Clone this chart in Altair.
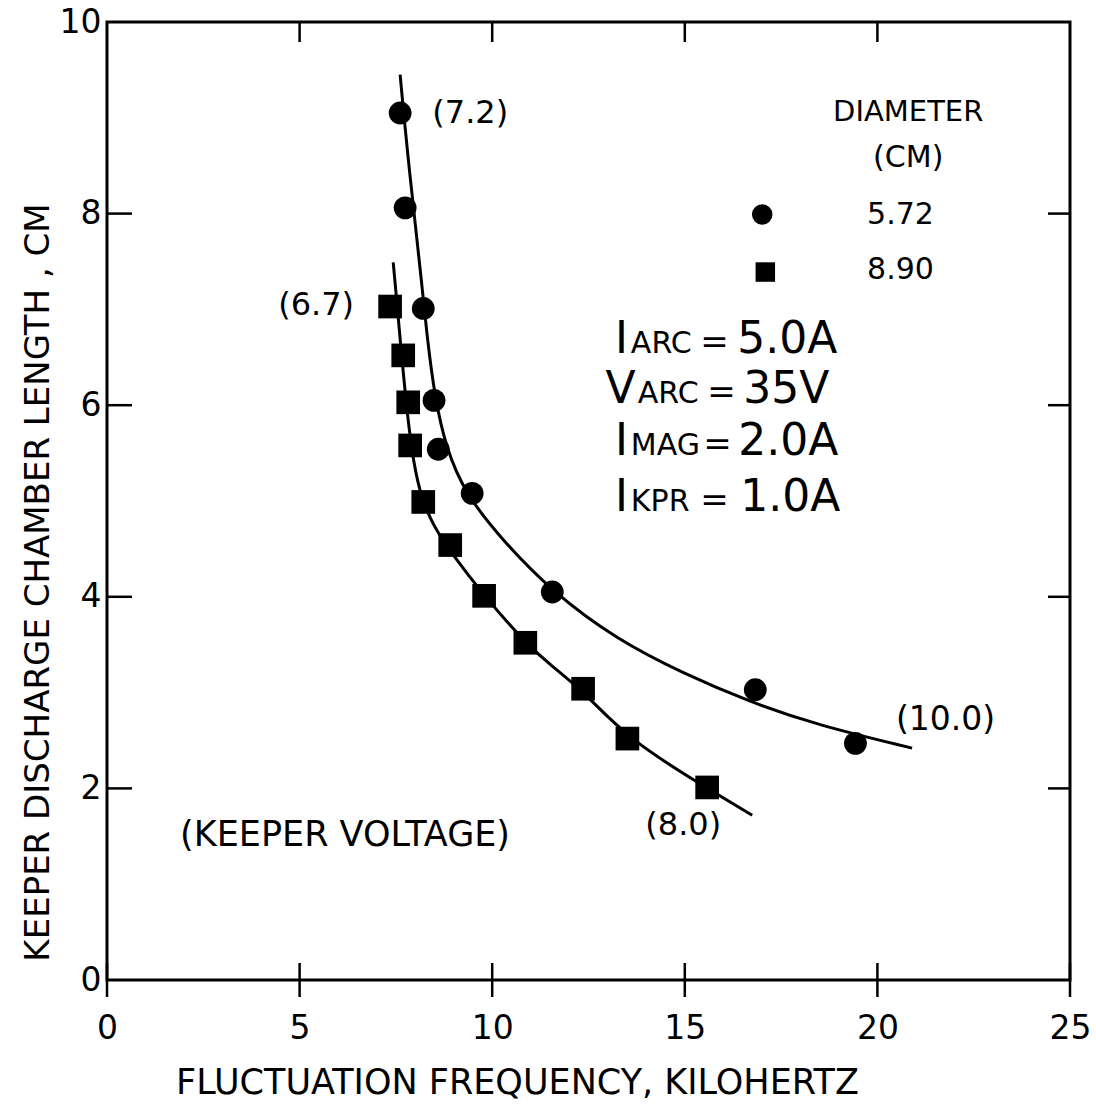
import altair as alt
import pandas as pd

# ---- data ----
circ_x = [7.61, 7.74, 8.21, 8.49, 8.60, 9.48, 11.56, 16.83, 19.43]
circ_y = [9.05, 8.06, 7.01, 6.05, 5.54, 5.08, 4.05, 3.03, 2.47]
sq_x = [7.35, 7.69, 7.82, 7.87, 8.21, 8.91, 9.79, 10.86, 12.36, 13.51, 15.58]
sq_y = [7.03, 6.52, 6.03, 5.58, 4.99, 4.54, 4.01, 3.52, 3.04, 2.52, 2.01]

# hand-drawn fit curves (traced)
circ_fit_x = [7.61, 7.70, 7.85, 8.00, 8.15, 8.30, 8.50, 8.80, 9.30, 10.2, 11.56, 13.25, 14.96, 16.7, 18.44, 20.9]
circ_fit_y = [9.45, 9.05, 8.45, 7.90, 7.35, 6.75, 6.10, 5.55, 5.08, 4.62, 4.05, 3.55, 3.20, 2.90, 2.66, 2.42]
sq_fit_x = [7.43, 7.52, 7.63, 7.76, 7.90, 8.10, 8.45, 8.95, 9.79, 10.86, 11.5, 12.36, 13.5, 15.58, 16.75]
sq_fit_y = [7.49, 7.10, 6.60, 6.05, 5.55, 5.10, 4.75, 4.45, 4.01, 3.52, 3.29, 3.02, 2.52, 2.00, 1.72]

x_ticks = [0, 5, 10, 15, 20, 25]
y_ticks = [0, 2, 4, 6, 8, 10]

# annotations (centered)
ann_text = ["(7.2)", "(6.7)", "(10.0)", "(8.0)", "(KEEPER VOLTAGE)", "DIAMETER", "(CM)", "5.72", "8.90"]
ann_x = [9.43, 5.43, 21.77, 14.96, 6.18, 20.8, 20.8, 20.6, 20.6]
ann_y = [9.05, 7.05, 2.71, 1.62, 1.51, 9.06, 8.58, 7.99, 7.41]
ann_fs = [32, 32, 33, 32, 35, 29, 30, 30, 30]

# operating parameters (left aligned pieces)
par_text = ["I", "ARC", "=", "5.0A",
            "V", "ARC", "=", "35V",
            "I", "MAG", "=", "2.0A",
            "I", "KPR", "=", "1.0A"]
par_x = [13.19, 13.60, 15.40, 16.36,
         12.94, 13.78, 15.58, 16.52,
         13.19, 13.60, 15.48, 16.39,
         13.19, 13.60, 15.40, 16.44]
par_y = [6.545] * 4 + [6.023] * 4 + [5.48] * 4 + [4.896] * 4
par_fs = [44, 30, 34, 44] * 4

W, H = 963, 958
FONT = "DejaVu Sans"

xs = alt.Scale(domain=[0, 25], nice=False, zero=False)
ys = alt.Scale(domain=[0, 10], nice=False, zero=False)

xaxis = alt.Axis(values=x_ticks, tickSize=0, domain=False, grid=False, labelFlush=False,
                 labelFontSize=33, labelPadding=32, labelFont=FONT, labelColor="black",
                 title="FLUCTUATION FREQUENCY, KILOHERTZ", titleFontSize=35, titleFont=FONT,
                 titleFontWeight="normal", titleColor="black",
                 titleX=410, titleY=113, titleBaseline="alphabetic", titleAnchor="middle")
yaxis = alt.Axis(values=y_ticks, tickSize=0, domain=False, grid=False, labelFlush=False,
                 labelFontSize=33, labelPadding=6, labelFont=FONT, labelColor="black",
                 title="KEEPER DISCHARGE CHAMBER LENGTH , CM", titleFontSize=34, titleFont=FONT,
                 titleFontWeight="normal", titleColor="black", titleAngle=270,
                 titleX=-59, titleY=560, titleBaseline="alphabetic", titleAlign="center")


def X(f):
    return alt.X(f, type="quantitative", scale=xs, axis=xaxis)


def Y(f):
    return alt.Y(f, type="quantitative", scale=ys, axis=yaxis)


circ_df = pd.DataFrame({"x": circ_x, "y": circ_y})
sq_df = pd.DataFrame({"x": sq_x, "y": sq_y})
fit_df = pd.DataFrame({
    "x": circ_fit_x + sq_fit_x,
    "y": circ_fit_y + sq_fit_y,
    "s": ["5.72"] * len(circ_fit_x) + ["8.90"] * len(sq_fit_x),
    "i": list(range(len(circ_fit_x))) + list(range(len(sq_fit_x))),
})

lines = alt.Chart(fit_df).mark_line(color="black", strokeWidth=3, interpolate="basis").encode(
    x=X("x"), y=Y("y"), detail="s:N", order="i:Q")

circles = alt.Chart(circ_df).mark_point(shape="circle", filled=True, size=520, color="black", opacity=1).encode(
    x=X("x"), y=Y("y"))
squares = alt.Chart(sq_df).mark_point(shape="square", filled=True, size=560, color="black", opacity=1).encode(
    x=X("x"), y=Y("y"))

leg_c = alt.Chart(pd.DataFrame({"x": [17.01], "y": [7.99]})).mark_point(
    shape="circle", filled=True, size=420, color="black", opacity=1).encode(x=X("x"), y=Y("y"))
leg_s = alt.Chart(pd.DataFrame({"x": [17.09], "y": [7.39]})).mark_point(
    shape="square", filled=True, size=380, color="black", opacity=1).encode(x=X("x"), y=Y("y"))

ann = alt.Chart(pd.DataFrame({"t": ann_text, "x": ann_x, "y": ann_y, "fs": ann_fs})).mark_text(
    font=FONT, color="black", align="center", baseline="middle").encode(
    x=X("x"), y=Y("y"), text="t:N", size=alt.Size("fs:Q", scale=None, legend=None))

par = alt.Chart(pd.DataFrame({"t": par_text, "x": par_x, "y": par_y, "fs": par_fs})).mark_text(
    font=FONT, color="black", align="left", baseline="alphabetic").encode(
    x=X("x"), y=Y("y"), text="t:N", size=alt.Size("fs:Q", scale=None, legend=None))

bt = alt.Chart(pd.DataFrame({"v": x_ticks})).mark_rule(color="black", strokeWidth=2.5).encode(
    x=X("v"), y=alt.value(H - 17), y2=alt.value(H + 17))
tt = alt.Chart(pd.DataFrame({"v": x_ticks[1:-1]})).mark_rule(color="black", strokeWidth=2.5).encode(
    x=X("v"), y=alt.value(0), y2=alt.value(20))
lt = alt.Chart(pd.DataFrame({"v": y_ticks[1:-1]})).mark_rule(color="black", strokeWidth=2.5).encode(
    y=Y("v"), x=alt.value(0), x2=alt.value(25))
rt = alt.Chart(pd.DataFrame({"v": y_ticks[1:-1]})).mark_rule(color="black", strokeWidth=2.5).encode(
    y=Y("v"), x=alt.value(W), x2=alt.value(W - 22))

chart = alt.layer(lines, circles, squares, leg_c, leg_s, ann, par, bt, tt, lt, rt).properties(
    width=W, height=H,
    autosize=alt.AutoSizeParams(type="none"),
    padding={"left": 107, "top": 22, "right": 26, "bottom": 129},
    background="white",
).configure_view(stroke="black", strokeWidth=3)

chart.save("out.html", embed_options={"renderer": "svg", "actions": False})
